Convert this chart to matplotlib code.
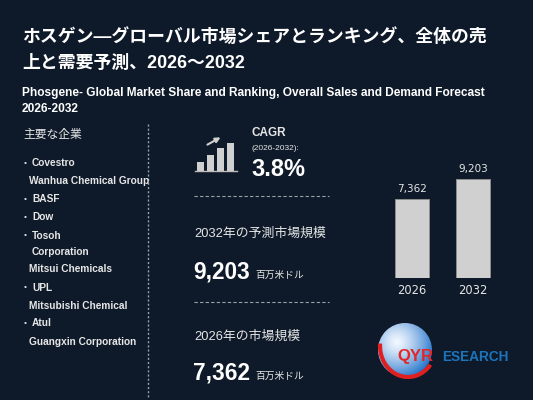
import numpy as np
import matplotlib
matplotlib.use('Agg')
import matplotlib.pyplot as plt
from matplotlib.patches import Circle, Rectangle, FancyArrowPatch, Arc

# data
years = ['2026', '2032']
market_size = [7362, 9203]
cagr = '3.8%'
companies = [('Covestro', True), ('Wanhua Chemical Group', False), ('BASF', True),
             ('Dow', True), ('Tosoh', True), ('Corporation', None),
             ('Mitsui Chemicals', False), ('UPL', True), ('Mitsubishi Chemical', False),
             ('Atul', True), ('Guangxin Corporation', False)]

bg = '#0e1a29'
fg = '#e6e6e6'
jp = ['Liberation Sans', 'Noto Sans CJK JP']

fig = plt.figure(figsize=(5.33, 4.0), dpi=100, facecolor=bg)
ax = fig.add_axes([0, 0, 1, 1])
ax.set_xlim(0, 533)
ax.set_ylim(400, 0)
ax.axis('off')
ax.set_facecolor(bg)

# title block
ax.text(22, 37, 'ホスゲン—グローバル市場シェアとランキング、全体の売', color='white',
        fontsize=12.85, fontweight='bold', family=jp, va='center')
ax.text(22, 63, '上と需要予測、2026～2032', color='white',
        fontsize=12.85, fontweight='bold', family=jp, va='center')
ax.text(22, 93, 'Phosgene- Global Market Share and Ranking, Overall Sales and Demand Forecast',
        color='white', fontsize=8.55, fontweight='bold', family=jp, va='center')
ax.text(22, 109, '2026-2032', color='white', fontsize=8.55, fontweight='bold',
        family=jp, va='center')

# left column: companies
ax.text(23, 135, '主要な企業', color=fg, fontsize=8.5, family=jp, va='center')
ys = [163, 181, 199, 217, 236, 252, 269, 288, 306, 323, 342]
for (name, bullet), y in zip(companies, ys):
    if bullet:
        ax.text(24, y, '•', color=fg, fontsize=6, va='center', family=jp)
        ax.text(32, y, name, color=fg, fontsize=7.3, fontweight='bold', va='center', family=jp)
    elif bullet is None:
        ax.text(32, y, name, color=fg, fontsize=7.3, fontweight='bold', va='center', family=jp)
    else:
        ax.text(29, y, name, color=fg, fontsize=7.3, fontweight='bold', va='center', family=jp)

ax.plot([148, 148], [124, 398], color='#9aa0a8', lw=1, ls=(0, (1.5, 1.5)))

# middle column: CAGR icon
ax.plot([195, 237], [171, 171], color='#bdbdbd', lw=1)
for x0, top in [(197, 162), (207, 155), (217, 148), (227, 143)]:
    ax.add_patch(Rectangle((x0, top), 7, 171 - top, facecolor='#d0d0d0', edgecolor='none'))
ax.add_patch(FancyArrowPatch((205, 146), (223, 136), arrowstyle='-|>', mutation_scale=7,
                             color='#d0d0d0', lw=1.5))

ax.text(252, 133, 'CAGR', color=fg, fontsize=8.5, fontweight='bold', va='center', family=jp)
ax.text(252, 149, '(2026-2032):', color=fg, fontsize=6, va='center', family=jp)
ax.text(251, 170, cagr, color='white', fontsize=17, fontweight='bold', va='center', family=jp)

ax.plot([194, 329], [196, 196], color='#9aa0a8', lw=0.8, ls=(0, (3, 2)))
ax.text(194, 234, '2032年の予測市場規模', color=fg, fontsize=9.3, va='center', family=jp)
ax.text(193, 272, f'{market_size[1]:,}', color='white', fontsize=16.3, fontweight='bold',
        va='center', family=jp)
ax.text(255, 275, '百万米ドル', color=fg, fontsize=7, va='center', family=jp)

ax.plot([194, 329], [302, 302], color='#9aa0a8', lw=0.8, ls=(0, (3, 2)))
ax.text(194, 337, '2026年の市場規模', color=fg, fontsize=9.3, va='center', family=jp)
ax.text(193, 373, f'{market_size[0]:,}', color='white', fontsize=16.3, fontweight='bold',
        va='center', family=jp)
ax.text(255, 376, '百万米ドル', color=fg, fontsize=7, va='center', family=jp)

# bar chart
bx = fig.add_axes([380 / 533, (400 - 278) / 400, 125 / 533, 118 / 400])
bx.set_facecolor(bg)
pos = np.arange(len(years))
bars = bx.bar(pos, market_size, width=0.557, color='#d0d0d0', edgecolor='#8c8c8c', lw=0.7)
bx.set_xlim(-0.525, 1.525)
bx.set_ylim(0, 11000)
for b, v in zip(bars, market_size):
    bx.annotate(f'{v:,}', (b.get_x() + b.get_width() / 2, v), xytext=(0, 10),
                textcoords='offset pixels', ha='center', va='center', color=fg, fontsize=7.5)
bx.set_xticks(pos)
bx.set_xticklabels(years, color=fg, fontsize=8.3)
bx.tick_params(axis='x', length=0, pad=4)
bx.set_yticks([])
for s in bx.spines.values():
    s.set_visible(False)

# logo
cx, cy, r = 405, 350, 27
yy, xx = np.mgrid[-1:1:120j, -1:1:120j]
d = np.sqrt((xx + 0.3) ** 2 + (yy + 0.3) ** 2)
t = np.clip(d / 1.5, 0, 1) ** 1.3
c1 = np.array([0.95, 0.97, 1.0])
c2 = np.array([0.08, 0.42, 0.78])
img = c1 * (1 - t[..., None]) + c2 * t[..., None]
im = ax.imshow(img, extent=(cx - r, cx + r, cy + r, cy - r), zorder=3)
clip = Circle((cx, cy), r, transform=ax.transData)
im.set_clip_path(clip)
ax.add_patch(Arc((cx + 3, cy - 4), 2 * r + 2, 2 * r + 8, theta1=40, theta2=185,
                 color='#e02020', lw=3, zorder=4))
ax.text(397, 357, 'QYR', color='#e32626', fontsize=12, fontweight='bold', va='center',
        family=jp, zorder=5)
ax.text(442, 357, 'ESEARCH', color='#1b75bc', fontsize=9.8, fontweight='bold', va='center',
        family=jp, zorder=5)

fig.savefig('out.png', dpi=100, facecolor=bg)
